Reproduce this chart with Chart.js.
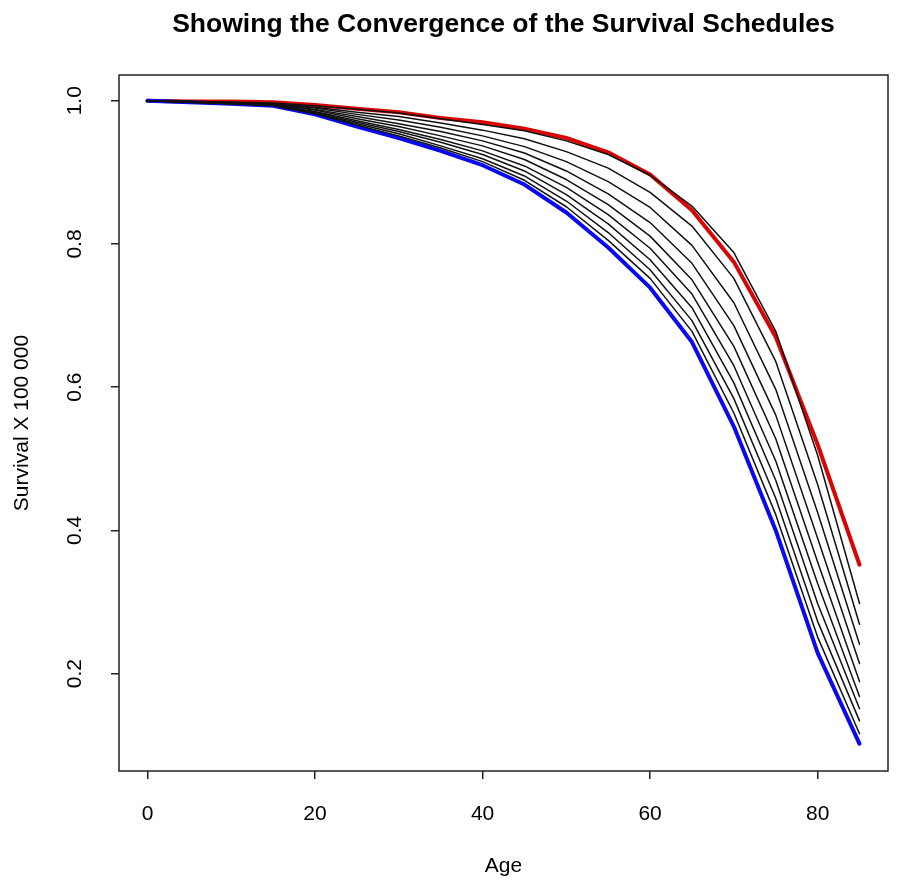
<!DOCTYPE html>
<html>
<head>
<meta charset="utf-8">
<title>Survival Schedules</title>
<script src="https://cdn.jsdelivr.net/npm/chart.js@4"></script>
<style>
  html, body { margin: 0; padding: 0; background: #fff; }
  #wrap { width: 899px; height: 888px; }
</style>
</head>
<body>
<div id="wrap"><canvas id="survivalChart" width="899" height="888"></canvas></div>
<script>
// ages of the life table
const ages = [0, 5, 10, 15, 20, 25, 30, 35, 40, 45, 50, 55, 60, 65, 70, 75, 80, 85];

// starting schedule (blue) and target schedule (red)
const blueSchedule = [1.000, 0.998, 0.996, 0.993, 0.981, 0.964, 0.948, 0.930, 0.910, 0.883, 0.844, 0.795, 0.739, 0.663, 0.545, 0.400, 0.229, 0.102];
const redSchedule  = [1.000, 0.999, 0.999, 0.998, 0.994, 0.989, 0.984, 0.976, 0.970, 0.961, 0.948, 0.928, 0.897, 0.847, 0.775, 0.670, 0.520, 0.352];

// intermediate schedules, last iteration first
const iter9 = [1.000, 0.999, 0.998, 0.997, 0.993, 0.988, 0.983, 0.975, 0.967, 0.958, 0.944, 0.925, 0.896, 0.853, 0.788, 0.678, 0.505, 0.298];
const iter8 = [1.000, 0.999, 0.998, 0.996, 0.991, 0.984, 0.978, 0.969, 0.959, 0.947, 0.929, 0.906, 0.872, 0.825, 0.752, 0.636, 0.464, 0.269];
const iter7 = [1.000, 0.999, 0.997, 0.996, 0.990, 0.981, 0.973, 0.963, 0.951, 0.936, 0.915, 0.887, 0.851, 0.798, 0.718, 0.597, 0.425, 0.241];
const iter6 = [1.000, 0.999, 0.997, 0.995, 0.988, 0.978, 0.968, 0.957, 0.944, 0.927, 0.902, 0.870, 0.830, 0.773, 0.686, 0.561, 0.389, 0.214];
const iter5 = [1.000, 0.999, 0.997, 0.995, 0.987, 0.975, 0.964, 0.951, 0.937, 0.918, 0.890, 0.855, 0.811, 0.750, 0.657, 0.528, 0.356, 0.189];
const iter4 = [1.000, 0.998, 0.997, 0.994, 0.985, 0.972, 0.960, 0.946, 0.930, 0.909, 0.879, 0.841, 0.794, 0.730, 0.630, 0.497, 0.326, 0.168];
const iter3 = [1.000, 0.998, 0.996, 0.994, 0.984, 0.970, 0.957, 0.942, 0.925, 0.902, 0.869, 0.828, 0.778, 0.711, 0.606, 0.470, 0.298, 0.151];
const iter2 = [1.000, 0.998, 0.996, 0.994, 0.983, 0.968, 0.954, 0.937, 0.919, 0.895, 0.860, 0.816, 0.764, 0.693, 0.584, 0.445, 0.273, 0.134];
const iter1 = [1.000, 0.998, 0.996, 0.993, 0.982, 0.966, 0.951, 0.934, 0.915, 0.889, 0.852, 0.805, 0.752, 0.678, 0.564, 0.422, 0.251, 0.116];
const iterations = [iter1, iter2, iter3, iter4, iter5, iter6, iter7, iter8, iter9];

// axis ticks
const xTicks = [0, 20, 40, 60, 80];
const yTicks = [0.2, 0.4, 0.6, 0.8, 1.0];

const FONT = "'Liberation Sans', Arial, Helvetica, sans-serif";

function toPoints(values) {
    return ages.map(function(a, i) { return { x: a, y: values[i] }; });
}

var datasets = [];
iterations.forEach(function(vals) {
    datasets.push({
        data: toPoints(vals),
        borderColor: '#111',
        borderWidth: 1.5,
        order: 0
    });
});
datasets.push({ data: toPoints(blueSchedule), borderColor: 'rgb(10,10,240)', borderWidth: 4, order: 1 });
datasets.push({ data: toPoints(redSchedule), borderColor: 'rgb(215,5,5)', borderWidth: 4, order: 1 });

// box, rotated y labels and titles, R style
const baseGraphics = {
    id: 'baseGraphics',
    afterDraw: function(chart) {
        var ctx = chart.ctx;
        var area = chart.chartArea;
        var yScale = chart.scales.y;

        ctx.save();
        ctx.strokeStyle = '#222';
        ctx.lineWidth = 1.5;
        ctx.strokeRect(area.left, area.top, area.right - area.left, area.bottom - area.top);

        ctx.fillStyle = '#000';
        ctx.font = '21px ' + FONT;
        ctx.textAlign = 'center';
        ctx.textBaseline = 'middle';
        yTicks.forEach(function(v) {
            var py = yScale.getPixelForValue(v);
            ctx.save();
            ctx.translate(75, py);
            ctx.rotate(-Math.PI / 2);
            ctx.fillText(v.toFixed(1), 0, 0);
            ctx.restore();
        });

        ctx.save();
        ctx.translate(22, (area.top + area.bottom) / 2);
        ctx.rotate(-Math.PI / 2);
        ctx.fillText('Survival X 100 000', 0, 0);
        ctx.restore();

        ctx.fillText('Age', (area.left + area.right) / 2, 866);

        ctx.font = 'bold 26.5px ' + FONT;
        ctx.fillText('Showing the Convergence of the Survival Schedules', (area.left + area.right) / 2, 25);
        ctx.restore();
    }
};

var ctxSurvival = document.getElementById('survivalChart');

var survivalChartInstance = new Chart(ctxSurvival, {
    type: 'line',
    data: { datasets: datasets },
    options: {
        responsive: false,
        animation: false,
        layout: { padding: { top: 75, right: 11, left: 0, bottom: 0 } },
        elements: {
            point: { radius: 0 },
            line: { tension: 0, borderCapStyle: 'round', borderJoinStyle: 'round' }
        },
        plugins: {
            legend: { display: false },
            tooltip: { enabled: false },
            title: { display: false }
        },
        scales: {
            x: {
                type: 'linear',
                min: -3.4,
                max: 88.4,
                afterBuildTicks: function(scale) {
                    scale.ticks = xTicks.map(function(v) { return { value: v }; });
                },
                afterFit: function(scale) { scale.height = 117; },
                grid: { display: true, drawOnChartArea: false, tickLength: 8, color: '#222', lineWidth: 1.5 },
                border: { display: false },
                ticks: {
                    color: '#000',
                    padding: 23,
                    maxRotation: 0,
                    font: { family: FONT, size: 21 }
                }
            },
            y: {
                type: 'linear',
                min: 0.064,
                max: 1.036,
                afterBuildTicks: function(scale) {
                    scale.ticks = yTicks.map(function(v) { return { value: v }; });
                },
                afterFit: function(scale) { scale.width = 119; },
                grid: { display: true, drawOnChartArea: false, tickLength: 8, color: '#222', lineWidth: 1.5 },
                border: { display: false },
                ticks: { display: false }
            }
        }
    },
    plugins: [baseGraphics]
});
</script>
</body>
</html>
